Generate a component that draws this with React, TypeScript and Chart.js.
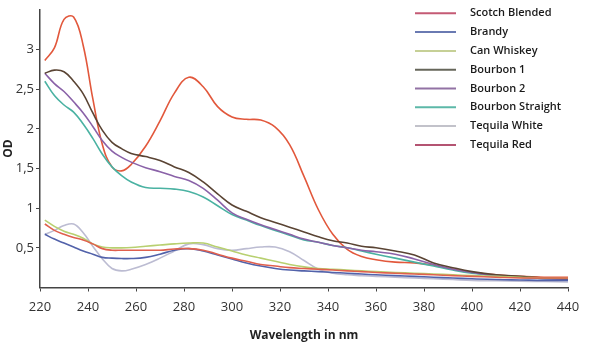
import React, { useEffect, useRef } from "react";
import { Chart, registerables } from "chart.js";

Chart.register(...registerables);

const wavelengths = [222, 226, 230, 234, 238, 242, 246, 250, 254, 258, 264, 270, 276, 282, 288, 294, 300, 306, 312, 318, 324, 330, 336, 342, 348, 354, 360, 368, 376, 384, 392, 400, 410, 420, 430, 440];

const seriesNames = ["Scotch Blended", "Brandy", "Can Whiskey", "Bourbon 1", "Bourbon 2", "Bourbon Straight", "Tequila White", "Tequila Red"];

const scotchBlended = [0.80, 0.72, 0.67, 0.63, 0.60, 0.55, 0.49, 0.47, 0.47, 0.47, 0.47, 0.47, 0.485, 0.49, 0.47, 0.42, 0.37, 0.33, 0.29, 0.27, 0.25, 0.24, 0.23, 0.22, 0.21, 0.20, 0.19, 0.18, 0.17, 0.16, 0.15, 0.14, 0.13, 0.12, 0.12, 0.12];
const brandy = [0.67, 0.61, 0.56, 0.51, 0.46, 0.42, 0.38, 0.37, 0.365, 0.365, 0.38, 0.42, 0.47, 0.49, 0.46, 0.41, 0.36, 0.31, 0.27, 0.24, 0.22, 0.21, 0.20, 0.19, 0.18, 0.17, 0.16, 0.15, 0.14, 0.13, 0.12, 0.11, 0.10, 0.095, 0.09, 0.09];
const canWhiskey = [0.85, 0.77, 0.71, 0.67, 0.62, 0.55, 0.51, 0.50, 0.50, 0.505, 0.52, 0.535, 0.55, 0.56, 0.56, 0.51, 0.46, 0.41, 0.37, 0.33, 0.29, 0.26, 0.24, 0.23, 0.22, 0.21, 0.20, 0.19, 0.18, 0.17, 0.16, 0.15, 0.14, 0.13, 0.12, 0.12];
const bourbon1 = [2.70, 2.74, 2.72, 2.60, 2.44, 2.20, 1.98, 1.83, 1.75, 1.69, 1.65, 1.60, 1.52, 1.45, 1.33, 1.18, 1.04, 0.96, 0.88, 0.82, 0.76, 0.70, 0.64, 0.59, 0.56, 0.52, 0.50, 0.46, 0.41, 0.31, 0.25, 0.20, 0.16, 0.14, 0.12, 0.11];
const bourbon2 = [2.70, 2.57, 2.47, 2.34, 2.20, 2.03, 1.85, 1.72, 1.64, 1.58, 1.51, 1.46, 1.40, 1.35, 1.25, 1.10, 0.94, 0.86, 0.79, 0.73, 0.67, 0.61, 0.57, 0.53, 0.50, 0.47, 0.45, 0.42, 0.36, 0.29, 0.23, 0.19, 0.15, 0.13, 0.11, 0.10];
const bourbonStraight = [2.60, 2.42, 2.30, 2.21, 2.06, 1.88, 1.68, 1.52, 1.41, 1.33, 1.26, 1.25, 1.24, 1.21, 1.14, 1.03, 0.92, 0.85, 0.78, 0.72, 0.66, 0.60, 0.57, 0.53, 0.50, 0.46, 0.42, 0.37, 0.32, 0.27, 0.22, 0.18, 0.15, 0.13, 0.11, 0.10];
const tequilaWhite = [0.67, 0.72, 0.78, 0.80, 0.69, 0.52, 0.36, 0.24, 0.21, 0.23, 0.29, 0.37, 0.46, 0.55, 0.54, 0.49, 0.47, 0.49, 0.51, 0.51, 0.45, 0.34, 0.23, 0.18, 0.16, 0.15, 0.14, 0.13, 0.12, 0.11, 0.10, 0.09, 0.085, 0.08, 0.075, 0.07];
const tequilaRed = [2.86, 3.02, 3.38, 3.41, 3.05, 2.38, 1.80, 1.52, 1.47, 1.55, 1.78, 2.10, 2.45, 2.65, 2.53, 2.28, 2.15, 2.12, 2.11, 2.02, 1.80, 1.40, 0.98, 0.67, 0.48, 0.39, 0.35, 0.32, 0.31, 0.28, 0.23, 0.19, 0.16, 0.14, 0.13, 0.13];

const seriesValues = [scotchBlended, brandy, canWhiskey, bourbon1, bourbon2, bourbonStraight, tequilaWhite, tequilaRed];
const seriesColors = ["#e0604e", "#5262aa", "#b8d070", "#5a4434", "#8a62a8", "#4ab2a2", "#bcbcd2", "#e2583c"];
const legendColors = ["#c45a74", "#6a7ab2", "#c6d096", "#66665a", "#9272a4", "#5cb8a8", "#c2c2ca", "#b45472"];

const xTicks = [220, 240, 260, 280, 300, 320, 340, 360, 380, 400, 420, 440];

export default function App() {
  const canvasRef = useRef<HTMLCanvasElement | null>(null);

  useEffect(() => {
    if (!canvasRef.current) return;
    const legendPlugin = {
      id: "customLegend",
      afterDraw(chart: any) {
        const ctx = chart.ctx;
        ctx.save();
        seriesNames.forEach((name, i) => {
          const y = 13.3 + i * 18.8;
          ctx.strokeStyle = legendColors[i];
          ctx.lineWidth = 2;
          ctx.beginPath();
          ctx.moveTo(415, y);
          ctx.lineTo(456, y);
          ctx.stroke();
          ctx.fillStyle = "#1a1a1a";
          ctx.font = '600 11px "Open Sans"';
          ctx.textBaseline = "middle";
          ctx.textAlign = "left";
          ctx.fillText(name, 470, y);
        });
        ctx.restore();
      },
    };

    const chart = new Chart(canvasRef.current, {
      type: "line",
      data: {
        datasets: seriesNames.map((name, i) => ({
          label: name,
          data: wavelengths.map((w, j) => ({ x: w, y: seriesValues[i][j] })),
          borderColor: seriesColors[i],
          backgroundColor: seriesColors[i],
          borderWidth: 1.6,
          pointRadius: 0,
          tension: 0.4,
          fill: false,
        })),
      },
      options: {
        animation: false,
        responsive: true,
        maintainAspectRatio: false,
        layout: { padding: { top: 8, right: 22, left: 0, bottom: 0 } },
        plugins: {
          legend: { display: false },
          tooltip: { enabled: false },
        },
        scales: {
          x: {
            type: "linear",
            min: 220,
            max: 440,
            afterFit(scale: any) {
              scale.height = 65.5;
            },
            afterBuildTicks(scale: any) {
              scale.ticks = xTicks.map((v) => ({ value: v }));
            },
            ticks: {
              color: "#333",
              font: { family: '"Open Sans"', size: 13 },
              padding: 8,
              maxRotation: 0,
              autoSkip: false,
            },
            grid: { drawOnChartArea: false, tickLength: 4, color: "#444" },
            border: { color: "#444", width: 1.5 },
            title: {
              display: true,
              text: "Wavelength in nm",
              color: "#222",
              font: { family: '"Open Sans"', size: 12, weight: "bold" },
              padding: { top: 0, bottom: 10 },
            },
          },
          y: {
            type: "linear",
            min: 0,
            max: 3.5,
            afterFit(scale: any) {
              scale.width = 40;
            },
            ticks: {
              stepSize: 0.5,
              color: "#333",
              font: { family: '"Open Sans"', size: 13 },
              padding: 2,
              callback: (v: any) => (v === 0 || v === 3.5 ? "" : String(v).replace(".", ",")),
            },
            grid: {
              drawOnChartArea: false,
              tickLength: 4,
              color: (c: any) => (c.tick && (c.tick.value === 0 || c.tick.value === 3.5) ? "rgba(0,0,0,0)" : "#444"),
            },
            border: { color: "#444", width: 1.5 },
            title: {
              display: true,
              text: "OD",
              color: "#222",
              font: { family: '"Open Sans"', size: 12, weight: "bold" },
              padding: { top: 1, bottom: 0 },
            },
          },
        },
      },
      plugins: [legendPlugin],
    });
    return () => chart.destroy();
  }, []);

  return (
    <div style={{ position: "absolute", left: 0, top: 0, width: 590, height: 353, background: "#fff" }}>
      <canvas ref={canvasRef} />
    </div>
  );
}
